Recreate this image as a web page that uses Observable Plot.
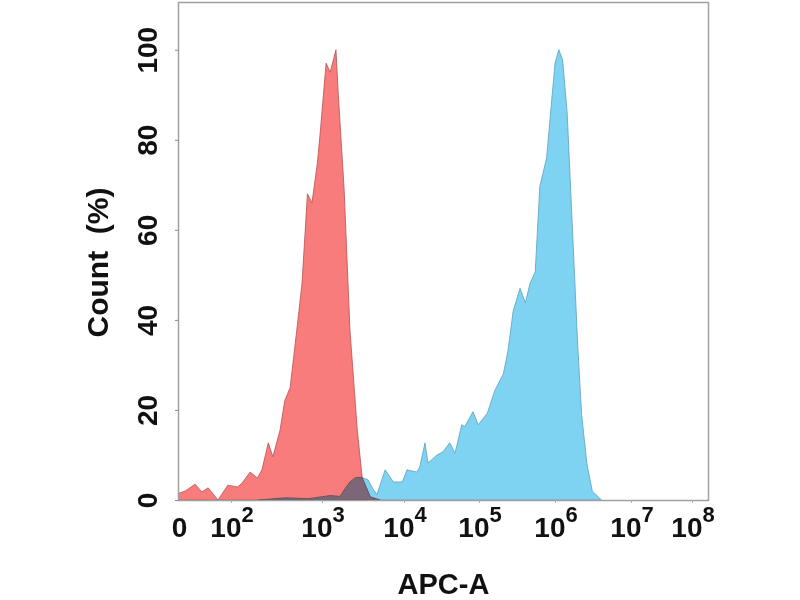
<!DOCTYPE html>
<html lang="en">
<head>
    <meta charset="UTF-8">
    <script src="https://cdn.jsdelivr.net/npm/d3@7"></script>
    <script src="https://cdn.jsdelivr.net/npm/@observablehq/plot@0.6"></script>
    <title>APC-A histogram</title>
    <style>
        body { margin: 0; background: #fff; }
        #plot svg { display: block; }
    </style>
</head>
<body>
<div id="plot"></div>
<script>
    // x positions are in decades (log10 of APC-A); "0" sits at decade 1
    const redDecade = [1.0, 1.12, 1.31, 1.44, 1.56, 1.75, 1.94, 2.07, 2.12, 2.21,
        2.29, 2.34, 2.41, 2.46, 2.54, 2.59, 2.65, 2.73, 2.78, 2.84,
        2.89, 2.95, 2.98, 3.05, 3.10, 3.17, 3.20, 3.27, 3.34, 3.43,
        3.49, 3.59, 3.71];
    const redCount = [1.5, 2.0, 3.5, 1.8, 2.7, 0, 3.3, 2.9, 3.7, 6.2,
        4.9, 6.7, 12.7, 9.6, 15.6, 22, 25, 39, 48, 68,
        66, 75, 81.5, 97, 95, 100, 89.6, 69, 38, 15.6,
        5, 0.7, 0];

    const blueDecade = [2.3, 2.6, 2.85, 3.1, 3.22, 3.28, 3.34, 3.41, 3.49, 3.56,
        3.62, 3.67, 3.77, 3.87, 3.98, 4.04, 4.17, 4.21, 4.28, 4.32,
        4.44, 4.52, 4.61, 4.68, 4.77, 4.81, 4.92, 4.99, 5.11, 5.21,
        5.32, 5.38, 5.45, 5.54, 5.61, 5.67, 5.74, 5.80, 5.89, 5.93,
        6.00, 6.05, 6.10, 6.16, 6.23, 6.30, 6.35, 6.42, 6.49, 6.61];
    const blueCount = [0, 0.5, 0.3, 1, 0.8, 2.5, 4, 5, 5, 4.5,
        2.5, 1.2, 6.7, 4, 4, 6.7, 6.2, 7.3, 12.7, 8.2,
        10, 10.7, 12.7, 10.4, 16.7, 16.3, 19.6, 16.7, 19.3, 24.4,
        28, 33, 42, 47, 43.8, 48, 50.7, 69.6, 76, 83.7,
        97, 100, 97.8, 86, 60, 34, 19, 8, 2, 0];

    const xTickDecade = [1, 2, 3, 4, 5, 6, 7, 8];
    const xTickExp = ["", "2", "3", "4", "5", "6", "7", "8"];
    const yTicks = [0, 20, 40, 60, 80, 100];

    const red = redDecade.map((d, i) => ({d, v: redCount[i]}));
    const blue = blueDecade.map((d, i) => ({d, v: blueCount[i]}));
    const expTicks = xTickDecade.map((d, i) => ({d, e: xTickExp[i]}));

    const font = "Liberation Sans, Arial, sans-serif";

    const plot = Plot.plot({
        width: 800,
        height: 600,
        marginLeft: 178,
        marginRight: 92,
        marginTop: 2,
        marginBottom: 100,
        style: {fontFamily: font, background: "#fff", overflow: "visible"},
        // biexponential-like display: decades are not equally wide
        x: {type: "linear", domain: xTickDecade, range: [179, 231, 322, 404, 479, 555, 631, 692], axis: null},
        y: {domain: [0, 110.6], axis: null},
        marks: [
            Plot.areaY(blue, {x: "d", y: "v", fill: "#7fd3f2", stroke: "#5a9fbd", strokeWidth: 0.8, mixBlendMode: "multiply"}),
            Plot.areaY(red, {x: "d", y: "v", fill: "#f87c7c", stroke: "#b85050", strokeWidth: 0.8, mixBlendMode: "multiply"}),
            Plot.frame({stroke: "#a0a0a0", strokeWidth: 1.5}),
            // small ticks on both axes
            Plot.axisY({ticks: yTicks, tickSize: 3, tickFormat: () => "", label: null, stroke: "#888"}),
            Plot.axisX({ticks: xTickDecade.slice(1), tickSize: 3, tickFormat: () => "", label: null, stroke: "#aaa"}),
            // y tick labels, rotated like the original
            Plot.text(yTicks, {
                y: d => d, text: d => String(d), frameAnchor: "left", dx: -22, rotate: -90,
                textAnchor: "middle", lineAnchor: "bottom", fontSize: 28, fontWeight: "bold", fill: "#111"
            }),
            // x tick labels: "0" and 10^n
            Plot.text(expTicks.filter(t => t.e === ""), {
                x: "d", text: () => "0", frameAnchor: "bottom", dy: 17, lineAnchor: "top",
                fontSize: 28, fontWeight: "bold", fill: "#111"
            }),
            Plot.text(expTicks.filter(t => t.e !== ""), {
                x: "d", text: () => "10", frameAnchor: "bottom", dx: 10, dy: 17, lineAnchor: "top",
                textAnchor: "end", fontSize: 28, fontWeight: "bold", fill: "#111"
            }),
            Plot.text(expTicks.filter(t => t.e !== ""), {
                x: "d", text: "e", frameAnchor: "bottom", dx: 10, dy: 6, lineAnchor: "top",
                textAnchor: "start", fontSize: 22, fontWeight: "bold", fill: "#111"
            }),
            Plot.text(["Count  (%)"], {
                frameAnchor: "left", dx: -71, dy: 11, rotate: -90, lineAnchor: "bottom",
                textAnchor: "middle", fontSize: 30, fontWeight: "bold", fill: "#111", letterSpacing: 1
            }),
            Plot.text(["APC-A"], {
                frameAnchor: "bottom", dy: 93, lineAnchor: "bottom",
                fontSize: 29, fontWeight: "bold", fill: "#111"
            })
        ]
    });
    document.querySelector("#plot").append(plot);
</script>
</body>
</html>
